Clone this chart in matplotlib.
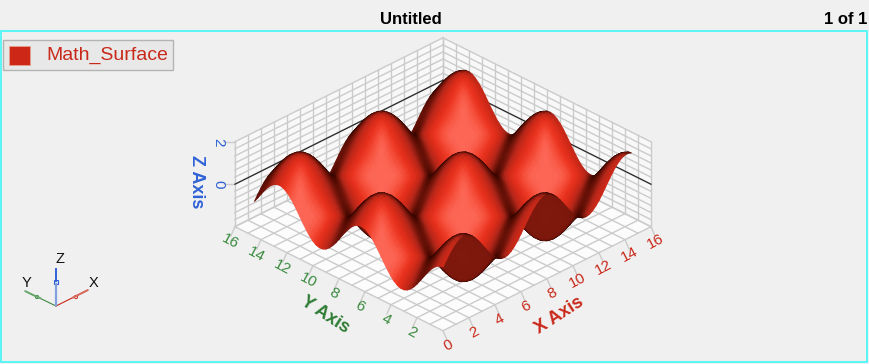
import numpy as np
import matplotlib
matplotlib.use("Agg")
import matplotlib.pyplot as plt
from matplotlib.colors import LinearSegmentedColormap
from matplotlib.patches import Rectangle, Circle
from matplotlib.tri import Triangulation
from mpl_toolkits.mplot3d import proj3d

plt.rcParams["font.family"] = ["Liberation Sans", "DejaVu Sans"]

title = "Untitled"
page_label = "1 of 1"
legend_label = "Math_Surface"

x_ticks = [0, 2, 4, 6, 8, 10, 12, 14, 16]
y_ticks = [2, 4, 6, 8, 10, 12, 14, 16]
z_ticks = [0, 2]
z_grid = [-2, -5/3, -4/3, -1, -2/3, -1/3, 0, 1/3, 2/3, 1, 4/3, 5/3, 2]

# surface height read as two profiles, one along each edge, spaced 0.25 apart
# height at (x, y) is the sum of the two
profile_x = [0.000, 0.247, 0.479, 0.682, 0.841, 0.949, 0.997, 0.984, 0.909, 0.778, 0.598, 0.382,
             0.141, -0.108, -0.351, -0.572, -0.757, -0.895, -0.978, -0.999, -0.959, -0.859, -0.706, -0.508,
             -0.279, -0.033, 0.215, 0.450, 0.657, 0.823, 0.938, 0.995, 0.989, 0.922, 0.798, 0.625,
             0.412, 0.174, -0.075, -0.319, -0.544, -0.736, -0.880, -0.970, -1.000, -0.968, -0.875, -0.729,
             -0.537, -0.311, -0.066, 0.183, 0.420, 0.632, 0.804, 0.926, 0.991, 0.993, 0.935]
profile_y = [1.000, 0.969, 0.878, 0.732, 0.540, 0.315, 0.071, -0.178, -0.416, -0.628, -0.801, -0.924,
             -0.990, -0.994, -0.936, -0.821, -0.654, -0.446, -0.211, 0.038, 0.284, 0.512, 0.709, 0.861,
             0.960, 0.999, 0.977, 0.894, 0.754, 0.566, 0.347, 0.112, -0.146, -0.390, -0.602, -0.780,
             -0.911, -0.985, -0.997, -0.948, -0.839, -0.679, -0.476, -0.243, 0.004, 0.252, 0.483, 0.685,
             0.844, 0.950, 0.998, 0.983, 0.907, 0.775, 0.596, 0.377, 0.137, -0.113, -0.355]

RED = "#c9291a"
GREEN = "#3a8a3f"
BLUE = "#2f62d6"
GRID = "#cbcbcb"

fig = plt.figure(figsize=(8.7, 3.64), dpi=100, facecolor="#f0f0f0")

W = 500
ax = fig.add_axes([186.2 / 870, -77 / 364, W / 870, W / 364], projection="3d", computed_zorder=False)
ax.set_proj_type("ortho")
ax.view_init(elev=30, azim=-135)
ax.set_xlim(0, 16, view_margin=0)
ax.set_ylim(0, 16, view_margin=0)
ax.set_zlim(-2, 2, view_margin=0)
ax.set_box_aspect((16, 16, 5.33), zoom=0.83)
ax.set_axis_off()
ax.patch.set_visible(False)

# floor and back walls
ax.plot_surface(np.array([[0, 16], [0, 16]]), np.array([[0, 0], [16, 16]]), np.full((2, 2), -2),
                color="#fcfcfc", shade=False, zorder=1)
ax.plot_surface(np.array([[0, 16], [0, 16]]), np.full((2, 2), 16), np.array([[-2, -2], [2, 2]]),
                color="#f8f8f8", shade=False, zorder=1)
ax.plot_surface(np.full((2, 2), 16), np.array([[0, 16], [0, 16]]), np.array([[-2, -2], [2, 2]]),
                color="#f8f8f8", shade=False, zorder=1)

for v in range(17):
    ax.plot([v, v], [0, 16], [-2, -2], color=GRID, lw=1.0, zorder=2)
    ax.plot([0, 16], [v, v], [-2, -2], color=GRID, lw=1.0, zorder=2)
    ax.plot([v, v], [16, 16], [-2, 2], color=GRID, lw=1.0, zorder=2)
    ax.plot([16, 16], [v, v], [-2, 2], color=GRID, lw=1.0, zorder=2)
for z in z_grid:
    ax.plot([0, 16], [16, 16], [z, z], color=GRID, lw=1.0, zorder=2)
    ax.plot([16, 16], [0, 16], [z, z], color=GRID, lw=1.0, zorder=2)

# dark line at z = 0 on the walls
ax.plot([0, 16], [16, 16], [0, 0], color="#2a2a2a", lw=0.9, zorder=3)
ax.plot([16, 16], [16, 0], [0, 0], color="#2a2a2a", lw=0.9, zorder=3)

# tick marks
for t in x_ticks:
    ax.plot([t, t - 0.55], [0, -0.86], [-2, -2], color=GRID, lw=1.0, zorder=2)
for t in y_ticks:
    ax.plot([0, -0.86], [t, t - 0.55], [-2, -2], color=GRID, lw=1.0, zorder=2)
for t in z_ticks:
    ax.plot([0, -0.43], [16, 16.43], [t, t], color=GRID, lw=1.0, zorder=2)

# everything else sits on a flat pixel-sized axes on top
ov = fig.add_axes([0, 0, 1, 1])
ov.set_xlim(0, 870)
ov.set_ylim(364, 0)
ov.axis("off")
ov.patch.set_visible(False)
fig.canvas.draw()


def to_overlay(x, y, z):
    px, py, depth = proj3d.proj_transform(x, y, z, ax.get_proj())
    pts = ov.transData.inverted().transform(ax.transData.transform(np.column_stack((px, py))))
    return pts[:, 0], pts[:, 1], depth


# surface: triangles painted far to near, gouraud shaded by facing of each vertex
wx = np.array(profile_x)
wy = np.array(profile_y)
xs = np.arange(len(wx)) * 0.25
ys = np.arange(len(wy)) * 0.25
X, Y = np.meshgrid(xs, ys)
Z = wy[:, None] + wx[None, :]

dzdy, dzdx = np.gradient(Z, ys, xs)
k = 1.334
nz = 1 / np.sqrt((k * dzdx)**2 + (k * dzdy)**2 + 1)
facing = np.clip((k * 0.612 * (dzdx + dzdy) + 0.5) * nz, -1, 1)
shade = np.sign(facing) * (1 - np.arccos(np.abs(facing)) / (np.pi / 2))

surface_cmap = LinearSegmentedColormap.from_list(
    "surface", [(0.0, "#8c1c10"), (0.44, "#7a170c"), (0.5, "#2a0300"), (0.55, "#500b02"),
                (0.665, "#b0261a"), (0.775, "#d42a18"), (0.89, "#ec3420"), (0.95, "#f6503c"),
                (1.0, "#ff6e5e")], N=2048)

sx, sy, depth = to_overlay(X.ravel(), Y.ravel(), Z.ravel())
ny, nx = Z.shape
idx = np.arange(ny * nx).reshape(ny, nx)
a, b, c, d = idx[:-1, :-1].ravel(), idx[:-1, 1:].ravel(), idx[1:, 1:].ravel(), idx[1:, :-1].ravel()
triangles = np.vstack((np.column_stack((a, b, c)), np.column_stack((a, c, d))))
triangles = triangles[np.argsort(-depth[triangles].mean(axis=1))]
ov.tripcolor(Triangulation(sx, sy, triangles), shade.ravel(), shading="gouraud",
             cmap=surface_cmap, vmin=-1, vmax=1)

# tick labels
for t in x_ticks:
    tx, ty, _ = to_overlay(np.array([t - 0.96]), np.array([-1.34]), np.array([-2.0]))
    ov.text(tx[0], ty[0], str(t), color=RED, fontsize=11, rotation=28, ha="center", va="center")
for t in y_ticks:
    tx, ty, _ = to_overlay(np.array([-1.34]), np.array([t - 0.96]), np.array([-2.0]))
    ov.text(tx[0], ty[0], str(t), color=GREEN, fontsize=11, rotation=-28, ha="center", va="center")
for t in z_ticks:
    tx, ty, _ = to_overlay(np.array([-0.65]), np.array([16.65]), np.array([float(t)]))
    ov.text(tx[0], ty[0], str(t), color=BLUE, fontsize=11, rotation=-90, ha="center", va="center")

ov.text(411, 19, title, fontsize=12, fontweight="bold", ha="center", va="center", color="black")
ov.text(867.5, 19, page_label, fontsize=12, fontweight="bold", ha="right", va="center", color="black")
ov.add_patch(Rectangle((1.5, 30.5), 866, 331, fill=False, edgecolor="#40f8f8", lw=1.2))

ov.add_patch(Rectangle((3, 39.5), 170, 30.5, facecolor="#e8e8e8", edgecolor="#b4b4b4", lw=1))
ov.add_patch(Rectangle((9.5, 45.5), 21, 19.5, facecolor="#cc2717", edgecolor="#e6a090", lw=0.6))
ov.text(46, 55.5, legend_label, fontsize=14, color=RED, ha="left", va="center")

ov.text(559, 315, "X Axis", color=RED, fontsize=13, fontweight="bold", rotation=33, ha="center", va="center")
ov.text(325, 315, "Y Axis", color="#2f7d35", fontsize=13, fontweight="bold", rotation=-33, ha="center", va="center")
ov.text(197, 182, "Z Axis", color=BLUE, fontsize=13, fontweight="bold", rotation=-90, ha="center", va="center")

# orientation triad
ov.plot([56, 88], [306, 290], color=RED, lw=0.8)
ov.plot([72, 80, 88], [298, 294, 290], color="#d86a5c", lw=1.4, solid_capstyle="butt")
ov.add_patch(Circle((76, 297), 1.6, facecolor="#f0f0f0", edgecolor=RED, lw=0.7))
ov.plot([56, 25], [306, 291], color=GREEN, lw=0.8)
ov.plot([41, 33, 25], [298.5, 295, 291], color="#6ba870", lw=1.4, solid_capstyle="butt")
ov.add_patch(Circle((37, 297), 1.6, facecolor="#f0f0f0", edgecolor=GREEN, lw=0.7))
ov.plot([56, 56], [306, 283], color="#7f9fe0", lw=1.6, solid_capstyle="butt")
ov.plot([56, 56], [282, 268], color=BLUE, lw=1.4, solid_capstyle="butt")
ov.add_patch(Rectangle((54, 279.5), 4, 4, facecolor="#dfe8fa", edgecolor=BLUE, lw=0.8))
ov.text(60, 259, "Z", fontsize=10.5, ha="center", va="center", color="#111111")
ov.text(94, 283, "X", fontsize=10.5, ha="center", va="center", color="#111111")
ov.text(27, 283, "Y", fontsize=10.5, ha="center", va="center", color="#111111")

fig.savefig("out.png", dpi=100, facecolor=fig.get_facecolor())
